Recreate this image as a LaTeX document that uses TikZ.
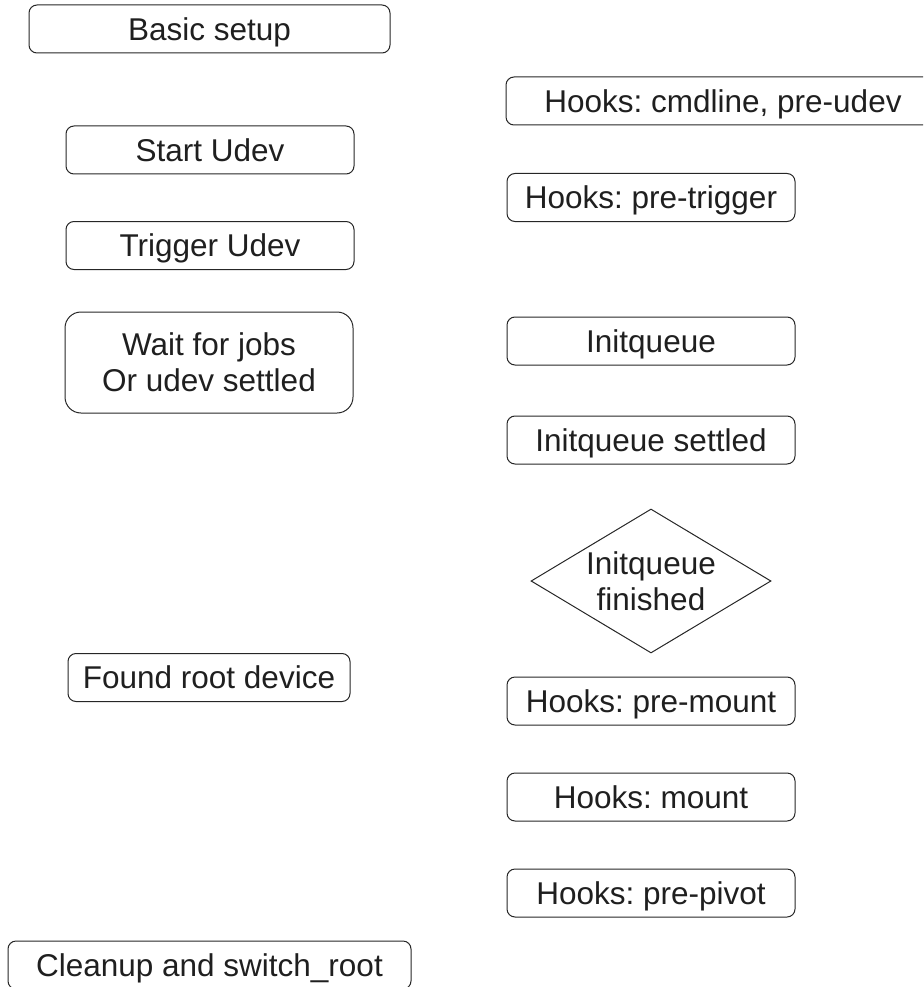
\documentclass[tikz,border=0pt]{standalone}
\usepackage{fontspec}
\setmainfont{Liberation Sans}
\usetikzlibrary{shapes.geometric}
\frenchspacing

\tikzset{
  stage/.style = {draw = black!85, line width = 1pt, rounded corners = 8pt,
    inner sep = 0pt, minimum width = 288pt, minimum height = 48pt,
    text height = 22.5pt, text depth = 0pt,
    align = center, text = black!88, font = \fontsize{31.5}{36}\selectfont},
  waitstage/.style = {stage, rounded corners = 16pt, minimum height = 101pt,
    text height = {}, text depth = {}},
  decision/.style = {draw = black!85, line width = 1pt, diamond, inner sep = 0pt,
    minimum width = 240pt, minimum height = 144pt}
}

\begin{document}
\begin{tikzpicture}[x = 1pt, y = -1pt]
  \useasboundingbox (0,0) rectangle (923,987);
  \clip (0,0) rectangle (923,987);

  % left column
  \node[stage, minimum width = 361pt] (setup) at (209.5,29) {Basic setup};
  \node[stage] (startudev) at (210,150) {Start Udev};
  \node[stage] (triggerudev) at (210,245.5) {Trigger Udev};
  \node[waitstage] (waitjobs) at (209,362.5) {Wait for jobs\\Or udev settled};
  \node[stage, minimum width = 282pt] (rootdev) at (209,677.5) {Found root device};
  \node[stage, minimum width = 403pt] (cleanup) at (209.5,965) {Cleanup and switch\_root};

  % right column
  \node[stage, minimum width = 434pt] (cmdline) at (723,101) {Hooks: cmdline, pre-udev};
  \node[stage] (pretrigger) at (651,197.5) {Hooks: pre-trigger};
  \node[stage] (initqueue) at (651,341) {Initqueue};
  \node[stage] (iqsettled) at (651,440) {Initqueue settled};
  \node[decision, label = {[align = center, text = black!88,
      font = \fontsize{31.5}{36}\selectfont]center:Initqueue\\finished}]
    (iqfinished) at (651,581) {};
  \node[stage] (premount) at (651,701) {Hooks: pre-mount};
  \node[stage] (mount) at (651,797) {Hooks: mount};
  \node[stage] (prepivot) at (651,893) {Hooks: pre-pivot};
\end{tikzpicture}
\end{document}
